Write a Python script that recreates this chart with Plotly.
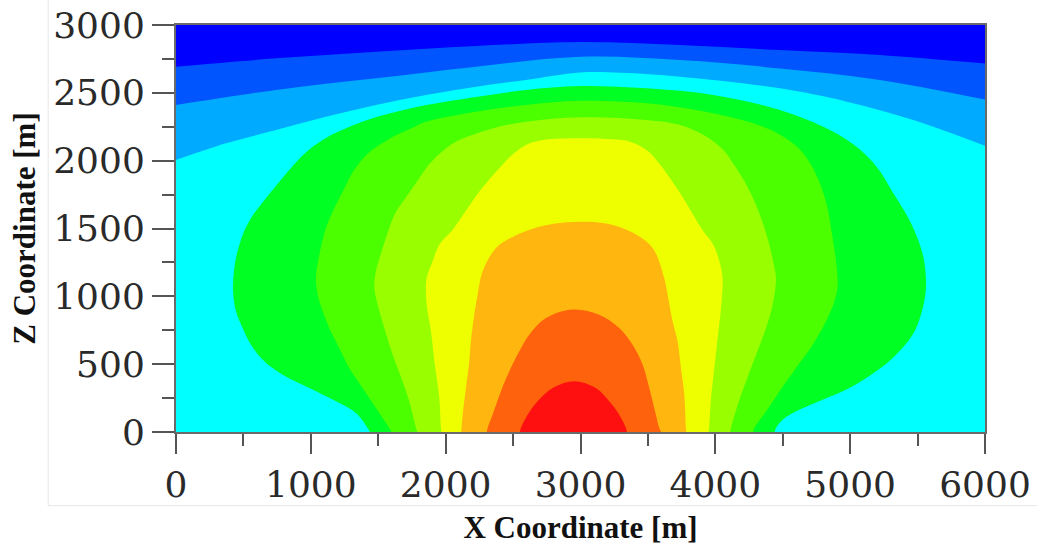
import plotly.graph_objects as go

# Colour of each band, from the lowest value (top, dark blue) to the highest (bottom centre, red)
BAND_COLORS = ["#0000FF", "#0055FF", "#00AAFF", "#00FFFF", "#00FF22", "#4CFF00",
               "#99FF00", "#EEFF00", "#FFB70F", "#FF620C", "#FF1010"]

# Contour levels 1-3: run from the left edge to the right edge (x [m], z [m])
L1_x = [0, 742, 1483, 2225, 3000, 3738, 4479, 5221, 6000]
L1_z = [2693, 2754, 2803, 2845, 2875, 2853, 2815, 2779, 2716]
L2_x = [0, 742, 1483, 2225, 3000, 3738, 4479, 5221, 6000]
L2_z = [2410, 2521, 2607, 2693, 2766, 2742, 2680, 2595, 2450]
L3_x = [0, 371, 742, 1112, 1483, 1854, 2225, 2595, 3000, 3300, 3738, 4479, 4974, 5468, 6000]
L3_z = [2005, 2128, 2226, 2324, 2410, 2484, 2545, 2595, 2650, 2648, 2619, 2533, 2435, 2300, 2110]

# Contour levels 4-10: closed arches resting on the bottom boundary
L4_x = [1440, 1421, 1335, 1187, 989, 791, 655, 556, 494, 445, 425, 425, 440, 470, 510, 565, 640, 730, 830, 950,
        1100, 1300, 1500, 1800, 2225, 2595, 2996, 3490, 3985, 4479, 4850, 5050, 5200, 5320, 5430, 5510, 5550,
        5562, 5525, 5463, 5340, 5192, 4994, 4796, 4623, 4499, 4450, 4440]
L4_z = [0, 30, 140, 226, 324, 422, 521, 644, 767, 890, 1012, 1135, 1258, 1381, 1490, 1590, 1690, 1800, 1920, 2050,
        2160, 2255, 2325, 2400, 2470, 2521, 2550, 2533, 2484, 2373, 2226, 2100, 1950, 1760, 1580, 1400, 1250,
        1060, 865, 717, 570, 447, 324, 238, 164, 91, 30, 0]
L5_x = [1600, 1582, 1483, 1384, 1285, 1211, 1137, 1088, 1051, 1038, 1063, 1112, 1162, 1236, 1320, 1420, 1580, 1750,
        1854, 2225, 2595, 2996, 3490, 3985, 4355, 4500, 4620, 4710, 4780, 4830, 4860, 4895, 4907, 4883, 4821, 4722,
        4598, 4475, 4376, 4289, 4280]
L5_z = [0, 30, 177, 324, 472, 619, 767, 890, 1012, 1135, 1307, 1504, 1624, 1771, 1930, 2050, 2160, 2240,
        2287, 2361, 2410, 2441, 2423, 2349, 2250, 2180, 2090, 1970, 1820, 1660, 1489, 1258, 1086, 963, 816, 644,
        472, 299, 152, 30, 0]
L6_x = [1790, 1780, 1730, 1681, 1607, 1545, 1496, 1471, 1483, 1533, 1582, 1630, 1706, 1790, 1880, 1990, 2101, 2348,
        2595, 3003, 3490, 3738, 3935, 4059, 4140, 4220, 4290, 4345, 4395, 4430, 4450, 4425, 4376, 4302, 4227, 4166,
        4116, 4110]
L6_z = [0, 30, 226, 373, 570, 767, 938, 1061, 1184, 1356, 1504, 1620, 1730, 1850, 1975, 2080, 2152, 2238,
        2287, 2320, 2300, 2263, 2177, 2079, 1968, 1840, 1700, 1560, 1400, 1250, 1135, 938, 767, 570, 373, 201,
        30, 0]
L7_x = [1970, 1965, 1953, 1916, 1891, 1866, 1854, 1859, 1903, 1953, 2051, 2150, 2249, 2373, 2430, 2490, 2595, 2719,
        3003, 3243, 3367, 3490, 3575, 3732, 3905, 3985, 4030, 4054, 4050, 4040, 4012, 3990, 3968, 3954, 3950]
L7_z = [0, 30, 251, 521, 742, 890, 1012, 1135, 1258, 1381, 1489, 1630, 1771, 1919, 1980, 2040, 2115, 2152,
        2165, 2157, 2140, 2079, 1990, 1771, 1489, 1381, 1258, 1135, 1012, 890, 644, 450, 251, 30, 0]
L8_x = [2115, 2126, 2150, 2175, 2187, 2212, 2237, 2274, 2373, 2500, 2650, 2800, 2990, 3200, 3386, 3535, 3621, 3646,
        3683, 3720, 3745, 3770, 3782, 3785]
L8_z = [0, 128, 324, 521, 668, 865, 1012, 1184, 1356, 1440, 1500, 1535, 1550, 1535, 1470, 1356, 1135, 1012,
        816, 668, 472, 275, 30, 0]
L9_x = [2305, 2311, 2348, 2410, 2472, 2546, 2620, 2744, 2941, 3139, 3287, 3386, 3461, 3510, 3559, 3584, 3600]
L9_z = [0, 30, 128, 300, 447, 595, 717, 840, 903, 865, 767, 644, 496, 324, 128, 30, 0]
L10_x = [2550, 2558, 2608, 2682, 2793, 2954, 3114, 3213, 3287, 3337, 3345]
L10_z = [0, 30, 128, 226, 324, 375, 324, 226, 128, 30, 0]

X_TICKS = [0, 1000, 2000, 3000, 4000, 5000, 6000]
Z_TICKS = [0, 500, 1000, 1500, 2000, 2500, 3000]

fig = go.Figure()

edge_levels = [(L1_x, L1_z), (L2_x, L2_z), (L3_x, L3_z)]
for i, (xs, zs) in enumerate(edge_levels):
    fig.add_trace(go.Scatter(x=xs, y=zs, mode="lines", fill="tozeroy",
                             fillcolor=BAND_COLORS[i + 1],
                             line=dict(width=0, shape="spline", smoothing=1, color=BAND_COLORS[i + 1]),
                             hoverinfo="skip", showlegend=False))

arch_levels = [(L4_x, L4_z), (L5_x, L5_z), (L6_x, L6_z), (L7_x, L7_z),
               (L8_x, L8_z), (L9_x, L9_z), (L10_x, L10_z)]
for i, (xs, zs) in enumerate(arch_levels):
    fig.add_trace(go.Scatter(x=xs, y=zs, mode="lines", fill="toself",
                             fillcolor=BAND_COLORS[i + 4],
                             line=dict(width=0, shape="spline", smoothing=1, color=BAND_COLORS[i + 4]),
                             hoverinfo="skip", showlegend=False))

tick_font = dict(family="DejaVu Serif", size=36, color="#2a2a2a")
title_font = dict(family="Liberation Serif", size=31, color="#111111")

fig.update_layout(
    width=1037, height=549,
    margin=dict(l=176, r=52, t=25, b=117, autoexpand=False),
    paper_bgcolor="white",
    plot_bgcolor=BAND_COLORS[0],
    showlegend=False,
    xaxis=dict(
        range=[0, 6000], tickvals=X_TICKS, ticktext=[str(v) for v in X_TICKS],
        ticks="outside", ticklen=20, tickwidth=2, tickcolor="#555555",
        minor=dict(dtick=500, ticks="outside", ticklen=12, tickwidth=2, tickcolor="#555555", showgrid=False),
        showline=True, linecolor="#6a6a6a", linewidth=2, mirror=True,
        showgrid=False, zeroline=False, tickfont=tick_font,
        title=dict(text="<b>X Coordinate [m]</b>", font=title_font, standoff=12),
        automargin=False,
    ),
    yaxis=dict(
        range=[0, 3000], tickvals=Z_TICKS, ticktext=[str(v) for v in Z_TICKS],
        ticks="outside", ticklen=22, tickwidth=2, tickcolor="#555555",
        minor=dict(dtick=250, ticks="outside", ticklen=12, tickwidth=2, tickcolor="#555555", showgrid=False),
        showline=True, linecolor="#6a6a6a", linewidth=2, mirror=True,
        showgrid=False, zeroline=False, tickfont=tick_font,
        title=dict(text="<b>Z Coordinate [m]</b>", font=title_font, standoff=8),
        automargin=False,
    ),
    shapes=[dict(type="rect", xref="paper", yref="paper", x0=-0.158, x1=1.08, y0=-0.181, y1=1.08,
                 line=dict(color="#e6e6e6", width=1), fillcolor="rgba(0,0,0,0)", layer="below")],
)

fig.write_html("out.html")
